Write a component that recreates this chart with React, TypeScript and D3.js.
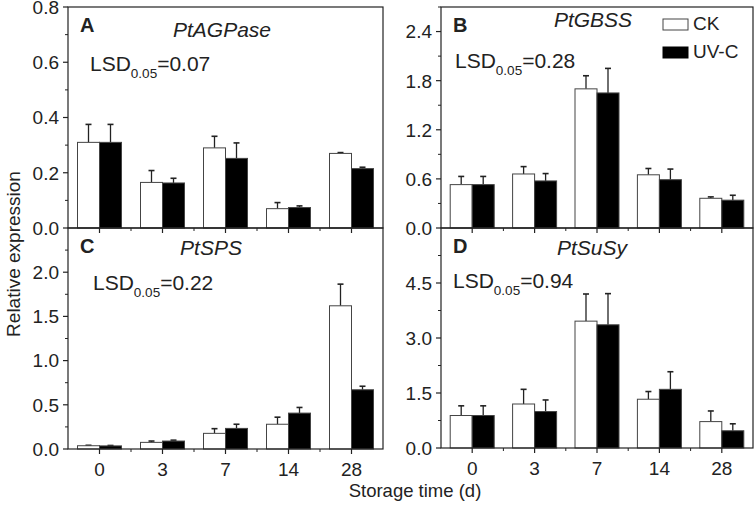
import React from "react";
import * as d3 from "d3";

const days = ["0", "3", "7", "14", "28"];
const seriesNames = ["CK", "UV-C"];

// Panel A – PtAGPase
const ckA = [0.31, 0.165, 0.29, 0.07, 0.27];
const ckErrA = [0.065, 0.043, 0.042, 0.022, 0.003];
const uvA = [0.31, 0.163, 0.252, 0.074, 0.215];
const uvErrA = [0.065, 0.017, 0.056, 0.006, 0.005];
const ticksA = [0, 0.2, 0.4, 0.6, 0.8];

// Panel B – PtGBSS
const ckB = [0.53, 0.66, 1.7, 0.65, 0.363];
const ckErrB = [0.1, 0.09, 0.16, 0.077, 0.017];
const uvB = [0.53, 0.575, 1.65, 0.59, 0.34];
const uvErrB = [0.1, 0.09, 0.3, 0.13, 0.06];
const ticksB = [0, 0.6, 1.2, 1.8, 2.4];

// Panel C – PtSPS
const ckC = [0.037, 0.075, 0.177, 0.28, 1.62];
const ckErrC = [0.005, 0.015, 0.053, 0.08, 0.245];
const uvC = [0.035, 0.09, 0.233, 0.406, 0.67];
const uvErrC = [0.005, 0.01, 0.047, 0.064, 0.04];
const ticksC = [0, 0.5, 1.0, 1.5, 2.0];

// Panel D – PtSuSy
const ckD = [0.886, 1.2, 3.46, 1.33, 0.72];
const ckErrD = [0.264, 0.4, 0.74, 0.21, 0.29];
const uvD = [0.886, 0.994, 3.36, 1.6, 0.47];
const uvErrD = [0.264, 0.316, 0.85, 0.48, 0.19];
const ticksD = [0, 1.5, 3.0, 4.5];

const FONT = "'Liberation Sans', Arial, Helvetica, sans-serif";
const INK = "#222";

type Panel = {
  letter: string;
  gene: string;
  lsd: string;
  ck: number[];
  ckErr: number[];
  uv: number[];
  uvErr: number[];
  ticks: number[];
  ymax: number;
  x0: number;
  x1: number;
  y0: number;
  y1: number;
  geneX: number;
  geneY: number;
  lsdX: number;
  lsdY: number;
  showX: boolean;
};

const panels: Panel[] = [
  { letter: "A", gene: "PtAGPase", lsd: "0.07", ck: ckA, ckErr: ckErrA, uv: uvA, uvErr: uvErrA, ticks: ticksA, ymax: 0.8,
    x0: 68, x1: 383, y0: 7, y1: 228, geneX: 222, geneY: 37, lsdX: 90, lsdY: 71, showX: false },
  { letter: "B", gene: "PtGBSS", lsd: "0.28", ck: ckB, ckErr: ckErrB, uv: uvB, uvErr: uvErrB, ticks: ticksB, ymax: 2.7,
    x0: 441, x1: 753, y0: 7, y1: 228, geneX: 593, geneY: 27, lsdX: 455, lsdY: 68, showX: false },
  { letter: "C", gene: "PtSPS", lsd: "0.22", ck: ckC, ckErr: ckErrC, uv: uvC, uvErr: uvErrC, ticks: ticksC, ymax: 2.5,
    x0: 68, x1: 383, y0: 228, y1: 449, geneX: 211, geneY: 255, lsdX: 93, lsdY: 290, showX: true },
  { letter: "D", gene: "PtSuSy", lsd: "0.94", ck: ckD, ckErr: ckErrD, uv: uvD, uvErr: uvErrD, ticks: ticksD, ymax: 6.0,
    x0: 441, x1: 753, y0: 228, y1: 448, geneX: 592, geneY: 255, lsdX: 453, lsdY: 288, showX: true },
];

function PanelView({ p }: { p: Panel }) {
  const x = d3.scaleBand<string>().domain(days).range([p.x0, p.x1]).paddingInner(0).paddingOuter(0);
  const step = x.step();
  const barW = 22;
  const sub = d3.scaleBand<string>().domain(seriesNames).range([-barW, barW]);
  const y = d3.scaleLinear().domain([0, p.ymax]).range([p.y1, p.y0]);
  const majorStep = p.ticks[1] - p.ticks[0];
  const minor = d3.range(majorStep / 2, p.ymax, majorStep).filter((v) => !p.ticks.some((t) => Math.abs(t - v) < 1e-9));
  const fmt = d3.format(".1f");
  const series = [
    { name: "CK", vals: p.ck, errs: p.ckErr, fill: "#fff" },
    { name: "UV-C", vals: p.uv, errs: p.uvErr, fill: "#000" },
  ];
  const centers = days.map((d) => (x(d) as number) + step / 2);
  const minorX = days.slice(0, -1).map((d) => (x(d) as number) + step);
  return (
    <g>
      {series.map((s) =>
        days.map((d, i) => {
          const bx = centers[i] + (sub(s.name) as number);
          const top = y(s.vals[i]);
          const etop = y(s.vals[i] + s.errs[i]);
          const cx = bx + sub.bandwidth() / 2;
          return (
            <g key={s.name + d}>
              <line x1={cx} x2={cx} y1={top} y2={etop} stroke={INK} strokeWidth={1.3} />
              <line x1={cx - 3} x2={cx + 3} y1={etop} y2={etop} stroke={INK} strokeWidth={1.6} />
              <rect x={bx} y={top} width={sub.bandwidth()} height={p.y1 - top} fill={s.fill} stroke="#444" strokeWidth={1} />
            </g>
          );
        })
      )}
      <rect x={p.x0} y={p.y0} width={p.x1 - p.x0} height={p.y1 - p.y0} fill="none" stroke={INK} strokeWidth={1.2} />
      {p.ticks.map((t) => (
        <g key={"yt" + t}>
          <line x1={p.x0 - 5} x2={p.x0} y1={y(t)} y2={y(t)} stroke={INK} strokeWidth={1.2} />
          <text x={p.x0 - 9} y={y(t)} dy="0.36em" textAnchor="end" fontSize={19} fontFamily={FONT} fill={INK}>
            {fmt(t)}
          </text>
        </g>
      ))}
      {minor.map((t) => (
        <line key={"ym" + t} x1={p.x0 - 3} x2={p.x0} y1={y(t)} y2={y(t)} stroke={INK} strokeWidth={1} />
      ))}
      {centers.map((c, i) => (
        <g key={"xt" + i}>
          <line x1={c} x2={c} y1={p.y1} y2={p.y1 + 5} stroke={INK} strokeWidth={1.2} />
          {p.showX && (
            <text x={c} y={p.y1 + 27} textAnchor="middle" fontSize={19} fontFamily={FONT} fill={INK}>
              {days[i]}
            </text>
          )}
        </g>
      ))}
      {minorX.map((m, i) => (
        <line key={"xm" + i} x1={m} x2={m} y1={p.y1} y2={p.y1 + 3} stroke={INK} strokeWidth={1} />
      ))}
      <text x={p.x0 + 12} y={p.y0 + 25} fontSize={20} fontWeight="bold" fontFamily={FONT} fill={INK}>
        {p.letter}
      </text>
      <text x={p.geneX} y={p.geneY} textAnchor="middle" fontSize={21} fontStyle="italic" fontFamily={FONT} fill={INK}>
        {p.gene}
      </text>
      <text x={p.lsdX} y={p.lsdY} fontSize={21} fontFamily={FONT} fill={INK}>
        LSD
        <tspan fontSize={13.5} dy={7}>0.05</tspan>
        <tspan dy={-7}>={p.lsd}</tspan>
      </text>
    </g>
  );
}

export default function App() {
  return (
    <svg width={755} height={506} style={{ position: "absolute", left: 0, top: 0, background: "#fff" }}>
      <rect width={755} height={506} fill="#fff" />
      {panels.map((p) => (
        <PanelView key={p.letter} p={p} />
      ))}
      <rect x={663} y={19} width={25} height={11} fill="#fff" stroke="#444" strokeWidth={1} />
      <text x={693} y={30} fontSize={19} fontFamily={FONT} fill={INK}>CK</text>
      <rect x={663} y={47} width={25} height={11} fill="#000" stroke="#000" strokeWidth={1} />
      <text x={693} y={58} fontSize={19} fontFamily={FONT} fill={INK}>UV-C</text>
      <text transform="translate(20,254) rotate(-90)" textAnchor="middle" fontSize={19} fontFamily={FONT} fill={INK}>
        Relative expression
      </text>
      <text x={415} y={497} textAnchor="middle" fontSize={18.5} fontFamily={FONT} fill={INK}>
        Storage time (d)
      </text>
    </svg>
  );
}
